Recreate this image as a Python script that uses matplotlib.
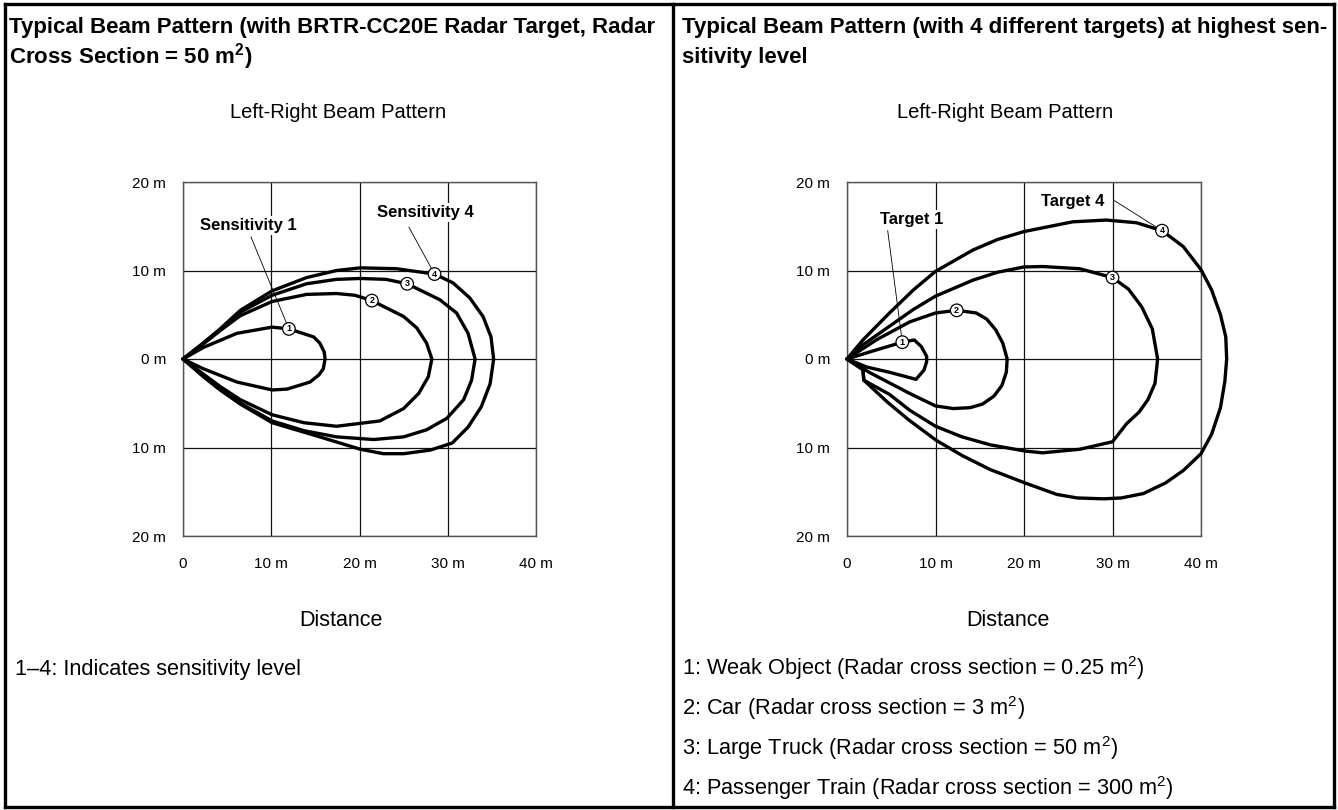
import matplotlib
matplotlib.use("Agg")
import matplotlib.pyplot as plt
from matplotlib.lines import Line2D

plt.rcParams["font.family"] = ["Liberation Sans", "DejaVu Sans"]
plt.rcParams["mathtext.fontset"] = "custom"
plt.rcParams["mathtext.rm"] = "Liberation Sans"
plt.rcParams["mathtext.bf"] = "Liberation Sans:bold"

W, H = 1338, 810

# ---- data (metres) ----
x_ticks = [0, 10, 20, 30, 40]
x_tick_labels = ["0", "10 m", "20 m", "30 m", "40 m"]
y_ticks = [-20, -10, 0, 10, 20]
y_tick_labels = ["20 m", "10 m", "0 m", "10 m", "20 m"]

# left: one lobe per sensitivity level (BRTR-CC20E target, 50 m2)
sens1_x = [0, 2.3, 6.1, 10.1, 12.0, 14.8, 15.5, 16.0, 16.1, 15.9, 15.4, 14.4, 11.8, 10.1, 6.1, 2.3, 0]
sens1_y = [0, 1.3, 2.9, 3.6, 3.4, 2.5, 1.8, 0.8, 0, -1.1, -1.8, -2.6, -3.4, -3.5, -2.6, -1.1, 0]
sens2_x = [0, 2.3, 4.2, 6.5, 10.1, 14.0, 17.4, 19.5, 21.4, 25.0, 26.5, 27.6, 28.2, 27.8,
           26.7, 25.0, 22.3, 17.4, 13.7, 10.1, 6.5, 4.2, 2.3, 0]
sens2_y = [0, 1.7, 3.2, 4.9, 6.5, 7.3, 7.4, 7.2, 6.6, 4.8, 3.5, 1.8, 0, -2.0,
           -3.9, -5.6, -7.0, -7.6, -7.2, -6.3, -4.6, -3.1, -1.7, 0]
sens3_x = [0, 2.3, 4.2, 6.5, 10.1, 14.0, 17.4, 20.1, 23.0, 25.4, 29.1, 31.0, 32.3, 33.1,
           32.7, 31.8, 29.9, 27.6, 25.0, 21.6, 17.4, 13.7, 10.1, 6.5, 4.2, 2.3, 0]
sens3_y = [0, 1.8, 3.3, 5.3, 7.2, 8.5, 9.0, 9.1, 9.0, 8.5, 6.7, 5.2, 2.9, 0,
           -2.4, -4.6, -6.7, -8.0, -8.8, -9.1, -8.8, -8.1, -7.0, -5.0, -3.4, -1.9, 0]
sens4_x = [0, 2.3, 4.2, 6.5, 10.1, 14.0, 17.4, 20.1, 24.2, 28.5, 30.6, 32.5, 34.0, 34.9,
           35.2, 34.8, 33.8, 32.3, 30.5, 28.0, 25.0, 22.7, 20.1, 15.5, 10.1, 6.5, 4.2,
           2.3, 0]
sens4_y = [0, 1.8, 3.4, 5.5, 7.7, 9.2, 10.0, 10.3, 10.2, 9.6, 8.6, 6.9, 4.8, 2.5,
           0, -2.8, -5.4, -7.7, -9.5, -10.3, -10.7, -10.7, -10.2, -8.8, -7.2, -5.1,
           -3.5, -2.0, 0]
sens_marks_x = [12.0, 21.4, 25.4, 28.5]
sens_marks_y = [3.4, 6.6, 8.5, 9.6]

# right: one lobe per target at the highest sensitivity
tgt1_x = [0, 2.9, 6.25, 7.6, 8.4, 9.0, 9.0, 8.7, 7.8, 4.8, 2.2, 0]
tgt1_y = [0, 0.9, 1.9, 2.15, 1.4, 0.3, -0.3, -1.25, -2.3, -1.5, -0.9, 0]
tgt2_x = [0, 3.3, 7.1, 10.0, 12.4, 14.6, 15.8, 16.8, 17.6, 18.1, 18.0, 17.5, 16.6,
          15.3, 13.9, 12.0, 10.0, 7.1, 4.8, 2.5, 0]
tgt2_y = [0, 2.15, 4.2, 5.2, 5.5, 5.2, 4.5, 3.3, 1.8, 0, -1.5, -3.0, -4.2,
          -5.1, -5.5, -5.6, -5.3, -3.9, -2.7, -1.5, 0]
tgt3_x = [0, 1.8, 4.8, 7.5, 10.0, 14.2, 17.0, 20.0, 22.1, 26.3, 30.0, 31.8, 33.3, 34.5,
          35.1, 34.8, 34.0, 33.0, 31.6, 30.0, 26.3, 22.1, 20.1, 16.2, 13.0, 10.0, 7.1,
          4.8, 1.9, 1.8, 0]
tgt3_y = [0, 1.6, 3.7, 5.6, 7.1, 8.9, 9.8, 10.4, 10.45, 10.2, 9.2, 7.9, 5.9, 3.4,
          0, -2.75, -4.6, -6.0, -7.3, -9.35, -10.2, -10.6, -10.4, -9.7, -8.8, -7.6, -5.8,
          -4.0, -2.4, -1.2, 0]
tgt4_x = [0, 1.8, 4.8, 7.5, 10.0, 14.2, 17.0, 20.0, 25.5, 29.3, 32.7, 35.6, 38.0, 40.0,
          41.2, 42.2, 42.8, 42.9, 42.7, 42.2, 41.2, 40.0, 38.0, 36.0, 33.5, 31.0, 29.0,
          26.0, 23.7, 20.1, 16.2, 13.0, 10.1, 7.0, 4.6, 1.9, 1.8, 0]
tgt4_y = [0, 2.15, 5.2, 7.8, 9.9, 12.3, 13.5, 14.4, 15.5, 15.7, 15.4, 14.5, 12.7, 10.1,
          7.8, 5.0, 2.5, 0, -2.5, -5.5, -8.5, -10.7, -12.6, -14.0, -15.2, -15.7, -15.8,
          -15.7, -15.3, -14.0, -12.5, -10.9, -9.2, -6.9, -4.9, -2.4, -1.2, 0]
tgt_marks_x = [6.25, 12.4, 30.0, 35.6]
tgt_marks_y = [1.9, 5.5, 9.2, 14.5]

left_labels = ["Sensitivity 1", "Sensitivity 4"]
left_label_xy = [(7.4, 15.1), (27.5, 16.5)]
left_leader_from = [(7.7, 13.8), (25.6, 14.9)]
right_labels = ["Target 1", "Target 4"]
right_label_xy = [(7.3, 15.8), (25.5, 17.8)]
right_leader_from = [(4.6, 14.5), (30.2, 17.9)]

headers_left = ["Typical Beam Pattern (with BRTR-CC20E Radar Target, Radar",
                r"Cross Section = 50 m$^{\mathbf{2}}$)"]
headers_right = ["Typical Beam Pattern (with 4 different targets) at highest sen-",
                 "sitivity level"]
note_left = ["1\u20134: Indicates sensitivity level"]
note_right = [r"1: Weak Object (Radar cross section = 0.25 m$^{\mathrm{2}}$)",
              r"2: Car (Radar cross section = 3 m$^{\mathrm{2}}$)",
              r"3: Large Truck (Radar cross section = 50 m$^{\mathrm{2}}$)",
              r"4: Passenger Train (Radar cross section = 300 m$^{\mathrm{2}}$)"]


def fx(x):
    return x / W


def fy(y):
    return 1 - y / H


def beam(ax, curves, marks_x, marks_y, labels, label_xy, leader_from):
    ax.set_xlim(0, 40)
    ax.set_ylim(-20, 20)
    ax.set_xticks(x_ticks, x_tick_labels)
    ax.set_yticks(y_ticks, y_tick_labels)
    ax.tick_params(length=0, labelsize=11)
    ax.tick_params(axis="y", pad=12)
    ax.tick_params(axis="x", pad=15)
    ax.grid(True, color="#111111", lw=0.9)
    for s in ax.spines.values():
        s.set_color("#555555")
        s.set_linewidth(1.0)
    for cx, cy in curves:
        ax.plot(cx, cy, color="black", lw=2.4, solid_joinstyle="round",
                solid_capstyle="round", zorder=3, clip_on=False)
    for (sx, sy), mx, my in zip(leader_from, [marks_x[0], marks_x[-1]],
                                [marks_y[0], marks_y[-1]]):
        ax.plot([sx, mx], [sy, my], color="black", lw=0.6, zorder=2.5)
    for text, (lx, ly) in zip(labels, label_xy):
        ax.text(lx, ly, text, ha="center", va="center", fontsize=12,
                fontweight="bold", zorder=2.2,
                bbox=dict(fc="white", ec="none", pad=1.5))
    for n, (mx, my) in enumerate(zip(marks_x, marks_y), start=1):
        ax.text(mx, my, str(n), ha="center", va="center", fontsize=6.5,
                fontweight="bold", zorder=5, clip_on=False,
                bbox=dict(boxstyle="circle,pad=0.2", fc="white", ec="black", lw=0.9))


fig = plt.figure(figsize=(W / 100, H / 100), dpi=100)

axl = fig.add_axes([fx(183), fy(536), fx(353), 354 / H])
beam(axl, [(sens1_x, sens1_y), (sens2_x, sens2_y), (sens3_x, sens3_y), (sens4_x, sens4_y)],
     sens_marks_x, sens_marks_y, left_labels, left_label_xy, left_leader_from)

axr = fig.add_axes([fx(847), fy(536), fx(354), 354 / H])
beam(axr, [(tgt1_x, tgt1_y), (tgt2_x, tgt2_y), (tgt3_x, tgt3_y), (tgt4_x, tgt4_y)],
     tgt_marks_x, tgt_marks_y, right_labels, right_label_xy, right_leader_from)

# header, subtitle, axis caption and notes for both panels
for x0, xc, heads, notes, ys in [(9, 338, headers_left, note_left, [669]),
                                 (682, 1005, headers_right, note_right, [668, 708, 748, 788])]:
    for yy, t in zip([28, 57], heads):
        fig.text(fx(x0), fy(yy), t, ha="left", va="center", fontsize=16,
                 fontweight="bold")
    fig.text(fx(xc), fy(113), "Left-Right Beam Pattern", ha="center", va="center",
             fontsize=14.5)
    fig.text(fx(xc + 3), fy(620), "Distance", ha="center", va="center",
             fontsize=15.5)
    for yy, t in zip(ys, notes):
        fig.text(fx(x0 + 6 if x0 < 100 else x0), fy(yy), t, ha="left", va="center",
                 fontsize=15.7)

# outer frame and divider
for xs, ys in [([5, 1334], [4, 4]), ([5, 1334], [807, 807]), ([5, 5], [4, 807]),
               ([1334, 1334], [4, 807]), ([673, 673], [4, 807])]:
    fig.add_artist(Line2D([fx(v) for v in xs], [fy(v) for v in ys],
                          color="black", lw=2.4))

fig.savefig("out.png", dpi=100)
